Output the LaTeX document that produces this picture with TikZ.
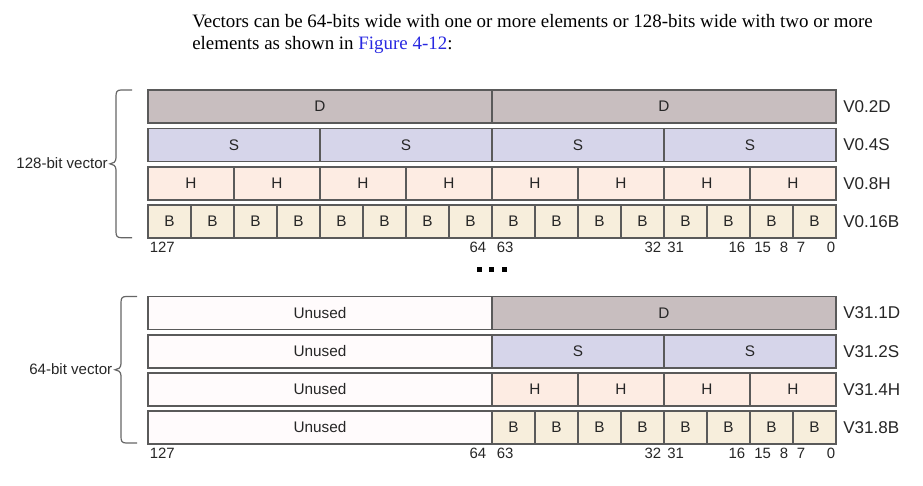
\documentclass[tikz,border=0pt]{standalone}
\usepackage{fontspec}
\setmainfont{Liberation Serif}
\setsansfont{Liberation Sans}
\definecolor{dfill}{RGB}{200,190,191}
\definecolor{sfill}{RGB}{214,213,234}
\definecolor{hfill}{RGB}{253,236,227}
\definecolor{bfill}{RGB}{247,238,220}
\definecolor{ufill}{RGB}{255,251,252}
\definecolor{edge}{RGB}{90,90,90}
\definecolor{linkblue}{RGB}{40,40,225}
% left curly brace: x of the spine, top y, bottom y
\newcommand{\leftbrace}[3]{%
  \pgfmathsetmacro\ym{(#2+#3)/2}
  \draw[bracepen] ({#1+16},#2) -- ({#1+5},#2) .. controls ({#1+1},#2) and (#1,{#2+2}) .. (#1,{#2+6})
    -- (#1,{\ym-6}) .. controls (#1,{\ym-2}) and ({#1-3},\ym) .. ({#1-6},\ym)
    .. controls ({#1-3},\ym) and (#1,{\ym+2}) .. (#1,{\ym+6})
    -- (#1,{#3-6}) .. controls (#1,{#3-2}) and ({#1+1},#3) .. ({#1+5},#3) -- ({#1+16},#3);
}
\begin{document}
\begin{tikzpicture}[x=0.75pt,y=-0.75pt,
  cell/.style={draw=edge, line width=1.2pt, inner sep=0pt, minimum height=33*0.75pt,
    font=\sffamily\fontsize{11.5}{13}\selectfont, text=black!85},
  reg/.style={anchor=west, inner sep=0pt, font=\sffamily\fontsize{12.8}{14}\selectfont, text=black!85},
  bit/.style={inner sep=0pt, font=\sffamily\fontsize{11.2}{13}\selectfont, text=black!85},
  side/.style={anchor=east, inner sep=0pt, font=\sffamily\fontsize{11.3}{13}\selectfont, text=black!85},
  bracepen/.style={draw=black!60, line width=0.9pt}]
  \useasboundingbox (0,0) rectangle (923,485);

  \node[anchor=base west, inner sep=0pt, font=\fontsize{14.2}{16}\selectfont] (intro1) at (192,27.3)
    {Vectors can be 64-bits wide with one or more elements or 128-bits wide with two or more};
  \node[anchor=base west, inner sep=0pt, font=\fontsize{14.2}{16}\selectfont] (intro2) at (192,49.5)
    {elements as shown in \textcolor{linkblue}{Figure 4-12}:};

  % 128-bit vector
  \foreach \r/\n/\t/\c/\y/\v in {0/2/D/dfill/106.5/V0.2D, 1/4/S/sfill/144.8/V0.4S,
                                 2/8/H/hfill/183.2/V0.8H, 3/16/B/bfill/221.5/V0.16B}{
    \pgfmathsetmacro\w{688/\n}
    \foreach \i in {1,...,\n}{
      \node[cell, fill=\c, minimum width=\w*0.75pt] (t\r-\i) at ({148+(\i-0.5)*\w},\y) {\t};
    }
    \node[reg] (treg\r) at (843,\y) {\v};
  }

  % 64-bit vector
  \foreach \r/\n/\t/\c/\y/\v in {0/1/D/dfill/313/V31.1D, 1/2/S/sfill/351.2/V31.2S,
                                 2/4/H/hfill/389.2/V31.4H, 3/8/B/bfill/427.2/V31.8B}{
    \pgfmathsetmacro\w{344/\n}
    \node[cell, fill=ufill, minimum width=344*0.75pt] (u\r) at (320,\y) {Unused};
    \foreach \i in {1,...,\n}{
      \node[cell, fill=\c, minimum width=\w*0.75pt] (b\r-\i) at ({492+(\i-0.5)*\w},\y) {\t};
    }
    \node[reg] (breg\r) at (843,\y) {\v};
  }

  % bit numbers
  \foreach \s/\y in {top/247.5, bot/453.5}{
    \node[bit, anchor=west] (\s127) at (149.5,\y) {127};
    \node[bit, anchor=east] (\s64) at (486.5,\y) {64};
    \node[bit, anchor=west] (\s63) at (496.5,\y) {63};
    \node[bit, anchor=east] (\s32) at (661.5,\y) {32};
    \node[bit, anchor=west] (\s31) at (667,\y) {31};
    \node[bit, anchor=east] (\s16) at (745.5,\y) {16};
    \node[bit, anchor=west] (\s15) at (754,\y) {15};
    \node[bit, anchor=east] (\s8) at (788.5,\y) {8};
    \node[bit, anchor=west] (\s7) at (796.5,\y) {7};
    \node[bit] (\s0) at (831,\y) {0};
  }

  % dots between the two groups
  \foreach \x in {479.5,491.5,504.5}
    \fill[black] ({\x-2.6},266.5) rectangle ({\x+2.6},271.6);

  % braces
  \leftbrace{116}{90}{237.7}
  \node[side] (wide) at (108,163.5) {128-bit vector};
  \leftbrace{121}{296.5}{443}
  \node[side] (narrow) at (112.5,369.5) {64-bit vector};
\end{tikzpicture}
\end{document}
